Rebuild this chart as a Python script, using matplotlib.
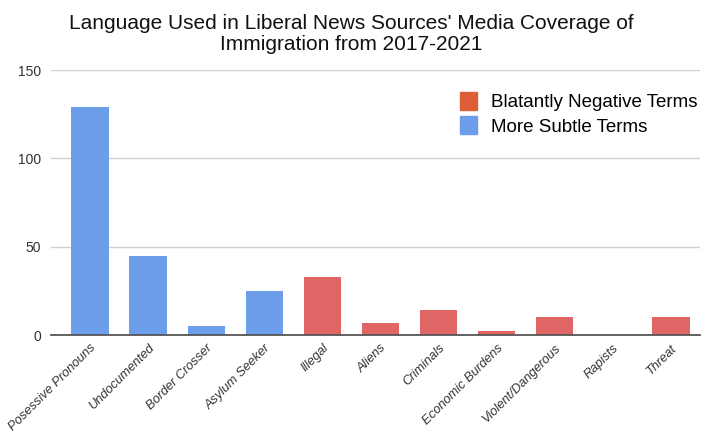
import matplotlib.pyplot as plt
from matplotlib.patches import Patch

terms = ["Posessive Pronouns", "Undocumented", "Border Crosser", "Asylum Seeker",
         "Illegal", "Aliens", "Criminals", "Economic Burdens",
         "Violent/Dangerous", "Rapists", "Threat"]
counts = [129, 45, 5, 25, 33, 7, 14, 2.5, 10, 0, 10]
subtle = [True, True, True, True, False, False, False, False, False, False, False]

blue = "#6d9eeb"
red = "#e06666"
legend_red = "#dd5d36"

plt.rcParams["font.family"] = ["Liberation Sans", "DejaVu Sans"]

fig = plt.figure(figsize=(7.02, 4.36), dpi=100)
ax = fig.add_axes([51 / 702, 1 - 335 / 436, 649 / 702, 265 / 436])

cols = [blue if s else red for s in subtle]
ax.bar(range(len(terms)), counts, width=0.64, color=cols, zorder=3)

ax.set_ylim(0, 150)
ax.set_xlim(-0.67, 10.5)
ax.set_yticks([0, 50, 100, 150])
ax.yaxis.grid(True, color="#d0d0d0", linewidth=1, zorder=0)
ax.tick_params(axis="y", length=0, labelsize=10, labelcolor="#333333", pad=7)
ax.tick_params(axis="x", length=0, pad=5)
ax.set_xticks(range(len(terms)))
ax.set_xticklabels(terms, rotation=45, ha="right", rotation_mode="anchor",
                   fontsize=9.3, style="italic", color="#333333")
for side in ["top", "right", "left"]:
    ax.spines[side].set_visible(False)
ax.spines["bottom"].set_color("#555555")
ax.spines["bottom"].set_linewidth(1.3)
ax.spines["bottom"].set_zorder(4)

fig.text(0.5, 1 - 34 / 436, "Language Used in Liberal News Sources' Media Coverage of\nImmigration from 2017-2021",
         ha="center", va="center", fontsize=15, linespacing=1.1, color="#111111")

handles = [Patch(color=legend_red, label="Blatantly Negative Terms"),
           Patch(color=blue, label="More Subtle Terms")]
ax.legend(handles=handles, loc="upper left", bbox_to_anchor=(0.618, 0.945),
          frameon=False, fontsize=13.5, handlelength=0.95, handleheight=1.1,
          handletextpad=0.7, labelspacing=0.25, borderaxespad=0)

fig.savefig("out.png")
